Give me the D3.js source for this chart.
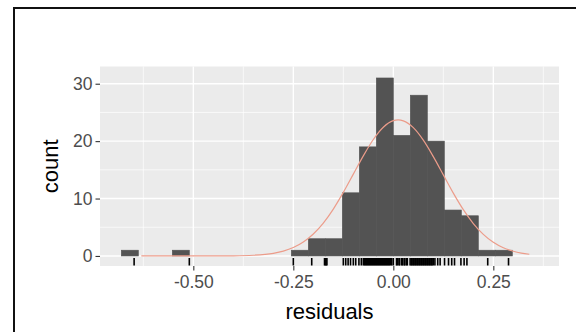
<!DOCTYPE html>
<html>
<head>
<meta charset="utf-8">
<script src="https://cdn.jsdelivr.net/npm/d3@7"></script>
<style>
  body { margin: 0; background: #fff; overflow: hidden; }
  svg { display: block; font-family: "Liberation Sans", Arial, sans-serif; }
</style>
</head>
<body>
<svg id="chart" width="576" height="332"></svg>
<script>
// histogram bins (lower edges) and counts
let binStarts = [-0.68, -0.6375, -0.595, -0.5525, -0.51, -0.4675, -0.425, -0.3825, -0.34, -0.2975,
  -0.255, -0.2125, -0.17, -0.1275, -0.085, -0.0425, 0, 0.0425, 0.085, 0.1275, 0.17, 0.2125, 0.255]
let binWidth = 0.0425
let counts = [1, 0, 0, 1, 0, 0, 0, 0, 0, 0, 1, 3, 3, 11, 19, 31, 21, 28, 20, 8, 7, 1, 1]

// normal curve (count scale)
let curveX = [-0.63, -0.55, -0.45, -0.40, -0.35, -0.30, -0.275, -0.25, -0.225, -0.20, -0.175, -0.15, -0.125,
  -0.10, -0.075, -0.05, -0.025, 0.00, 0.012, 0.025, 0.05, 0.075, 0.10, 0.125, 0.15, 0.175, 0.20, 0.225,
  0.25, 0.275, 0.30, 0.32, 0.34]
let curveY = [0, 0, 0, 0.02, 0.12, 0.46, 0.84, 1.46, 2.43, 3.83, 5.73, 8.17, 11.07,
  14.25, 17.43, 20.28, 22.42, 23.56, 23.7, 23.54, 22.35, 20.17, 17.3, 14.12, 10.94, 8.06, 5.65, 3.76,
  2.38, 1.43, 0.82, 0.50, 0.30]

// rug: individual residuals
let rugValues = [
  -0.648, -0.510,
  -0.250, -0.204,
  -0.172, -0.170, -0.168, -0.166,
  -0.125, -0.119, -0.113, -0.107, -0.100, -0.094, -0.086, -0.080,
  -0.075, -0.072, -0.070, -0.067, -0.065, -0.062, -0.060, -0.057, -0.055, -0.052, -0.050, -0.047,
  -0.045, -0.042, -0.040, -0.037, -0.035, -0.032, -0.030, -0.027, -0.025, -0.022, -0.020, -0.017,
  -0.015, -0.012, -0.010, -0.007, -0.004, 0.000,
  0.008, 0.010, 0.014, 0.016, 0.021, 0.023, 0.027, 0.029, 0.033, 0.035,
  0.042, 0.045, 0.047, 0.050, 0.052, 0.055, 0.057, 0.060, 0.062, 0.065, 0.067, 0.070, 0.072,
  0.075, 0.077, 0.080, 0.082, 0.085, 0.087, 0.090, 0.092, 0.095, 0.097, 0.100, 0.104,
  0.111, 0.117, 0.128, 0.138, 0.146, 0.153,
  0.169, 0.177, 0.184,
  0.236, 0.288
]

let xTicks = [-0.50, -0.25, 0.00, 0.25]
let xMinor = [-0.625, -0.375, -0.125, 0.125, 0.375]
let yTicks = [0, 10, 20, 30]
let yMinor = [5, 15, 25]

//面板位置
let panel = { left: 100, right: 559, top: 66.5, bottom: 266 }
let svg = d3.select('#chart')

// outer frame: only its left and top edges are in the picture
svg.append('path')
  .attr('d', 'M14,340 L14,8 L590,8')
  .attr('fill', 'none')
  .attr('stroke', '#111')
  .attr('stroke-width', 2)

let x = d3.scaleLinear().domain([-0.7333, 0.4142]).range([panel.left, panel.right])
let y = d3.scaleLinear().domain([-1.75, 33.0]).range([panel.bottom, panel.top])

svg.append('rect')
  .attr('x', panel.left).attr('y', panel.top)
  .attr('width', panel.right - panel.left)
  .attr('height', panel.bottom - panel.top)
  .attr('fill', '#EBEBEB')

//网格线
let grid = svg.append('g')
grid.selectAll('.xminor').data(xMinor).enter().append('line')
  .attr('x1', d => x(d)).attr('x2', d => x(d))
  .attr('y1', panel.top).attr('y2', panel.bottom)
  .attr('stroke', '#fff').attr('stroke-width', 0.7)
grid.selectAll('.yminor').data(yMinor).enter().append('line')
  .attr('x1', panel.left).attr('x2', panel.right)
  .attr('y1', d => y(d)).attr('y2', d => y(d))
  .attr('stroke', '#fff').attr('stroke-width', 0.7)
grid.selectAll('.xmajor').data(xTicks).enter().append('line')
  .attr('x1', d => x(d)).attr('x2', d => x(d))
  .attr('y1', panel.top).attr('y2', panel.bottom)
  .attr('stroke', '#fff').attr('stroke-width', 1.4)
grid.selectAll('.ymajor').data(yTicks).enter().append('line')
  .attr('x1', panel.left).attr('x2', panel.right)
  .attr('y1', d => y(d)).attr('y2', d => y(d))
  .attr('stroke', '#fff').attr('stroke-width', 1.4)

// bars
svg.append('g').selectAll('rect')
  .data(counts.map((c, i) => ({ x0: binStarts[i], c: c })).filter(d => d.c > 0))
  .enter()
  .append('rect')
  .attr('x', d => x(d.x0))
  .attr('y', d => y(d.c))
  .attr('width', d => x(d.x0 + binWidth) - x(d.x0))
  .attr('height', d => y(0) - y(d.c))
  .attr('fill', '#535353')
  .attr('stroke', '#535353')
  .attr('stroke-width', 0.6)

// normal curve
let line = d3.line()
  .x((d, i) => x(curveX[i]))
  .y(d => y(d))
  .curve(d3.curveMonotoneX)
svg.append('path')
  .attr('d', line(curveY))
  .attr('fill', 'none')
  .attr('stroke', '#EC9C8A')
  .attr('stroke-width', 1.2)

// rug
svg.append('g').selectAll('line')
  .data(rugValues)
  .enter()
  .append('line')
  .attr('x1', d => x(d)).attr('x2', d => x(d))
  .attr('y1', panel.bottom - 8).attr('y2', panel.bottom - 0.5)
  .attr('stroke', '#000')
  .attr('stroke-width', 1.6)

//坐标轴
let fmt = d => d3.format('.2f')(d).replace('\u2212', '-')
let xAxis = d3.axisBottom(x).tickValues(xTicks).tickFormat(fmt).tickSize(4.5).tickPadding(5)
let yAxis = d3.axisLeft(y).tickValues(yTicks).tickFormat(d3.format('d')).tickSize(4.5).tickPadding(3)

let gx = svg.append('g')
  .attr('transform', `translate(0, ${panel.bottom})`)
  .call(xAxis)
let gy = svg.append('g')
  .attr('transform', `translate(${panel.left}, 0)`)
  .call(yAxis)

for (let g of [gx, gy]) {
  g.select('.domain').remove()
  g.selectAll('.tick line').attr('stroke', '#333').attr('stroke-width', 1.1)
  g.selectAll('.tick text')
    .attr('fill', '#4D4D4D')
    .attr('font-size', '17.5px')
    .attr('font-family', '"Liberation Sans", Arial, sans-serif')
}

svg.append('text')
  .attr('x', (panel.left + panel.right) / 2)
  .attr('y', 319)
  .attr('text-anchor', 'middle')
  .attr('font-size', '22px')
  .attr('fill', '#000')
  .text('residuals')

svg.append('text')
  .attr('transform', `translate(58, ${(panel.top + panel.bottom) / 2}) rotate(-90)`)
  .attr('text-anchor', 'middle')
  .attr('font-size', '22px')
  .attr('fill', '#000')
  .text('count')
</script>
</body>
</html>
